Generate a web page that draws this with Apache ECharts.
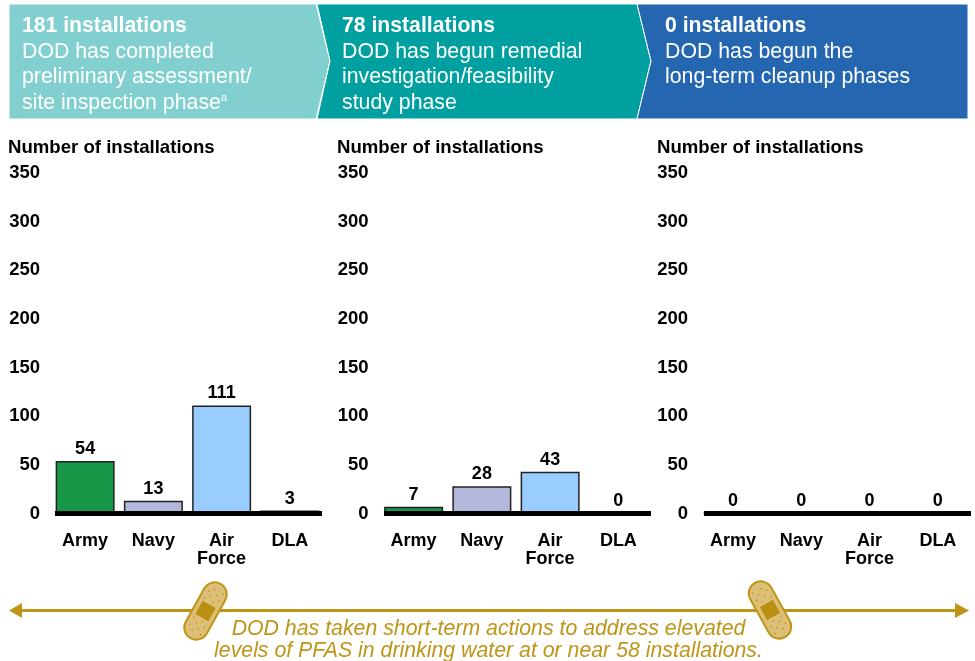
<!DOCTYPE html>
<html>
<head>
<meta charset="utf-8">
<script src="https://cdn.jsdelivr.net/npm/echarts@6/dist/echarts.min.js"></script>
<style>
  html, body { margin: 0; padding: 0; background: #fff; }
  #main { width: 975px; height: 661px; }
</style>
</head>
<body>
<div id="main"></div>
<script>
var categories = ['Army', 'Navy', 'Air\nForce', 'DLA'];
var assessmentValues = [54, 13, 111, 3];
var investigationValues = [7, 28, 43, 0];
var cleanupValues = [0, 0, 0, 0];
var barColors = ['#169848', '#B3B8DA', '#99CCFF', '#000000'];
var axisTitle = 'Number of installations';
var yMax = 350;
var yStep = 50;

var FONT = '"Liberation Sans", Arial, sans-serif';
var GOLD = '#BF9518';
var panels = [
  { values: assessmentValues, left: 51, lineLeft: 55, titleLeft: 8 },
  { values: investigationValues, left: 379.5, lineLeft: 384, titleLeft: 337 },
  { values: cleanupValues, left: 699, lineLeft: 704, titleLeft: 657 }
];
var GRID_W = 273, GRID_TOP = 173, GRID_BOTTOM_Y = 513.5;

var banners = [
  { fill: '#82CFD0', points: [[9, 4], [316, 4], [330, 61], [316, 119], [9, 119]], x: 22,
    head: '181 installations', lines: ['DOD has completed', 'preliminary assessment/', 'site inspection phase'] },
  { fill: '#009FA0', points: [[317, 4], [637, 4], [651, 61], [637, 119], [317, 119], [330, 61]], x: 342,
    head: '78 installations', lines: ['DOD has begun remedial', 'investigation/feasibility', 'study phase'] },
  { fill: '#2566B0', points: [[637, 4], [968, 4], [968, 119], [637, 119], [651, 61]], x: 665,
    head: '0 installations', lines: ['DOD has begun the', 'long-term cleanup phases'] }
];

var graphics = [];

banners.forEach(function (b) {
  graphics.push({
    type: 'polygon', shape: { points: b.points },
    style: { fill: b.fill, stroke: '#fff', lineWidth: 1 }
  });
  graphics.push({
    type: 'text', x: b.x, y: 26,
    style: { text: b.head, fill: '#fff', font: 'bold 21.2px ' + FONT, textVerticalAlign: 'middle' }
  });
  b.lines.forEach(function (line, i) {
    graphics.push({
      type: 'text', x: b.x, y: 52 + i * 25.5,
      style: { text: line, fill: '#fff', font: '21.3px ' + FONT, textVerticalAlign: 'middle' }
    });
  });
});
// footnote mark
graphics.push({
  type: 'text', x: 221, y: 98,
  style: { text: 'a', fill: '#fff', font: '11px ' + FONT, textVerticalAlign: 'middle' }
});

// thick baseline under each panel
panels.forEach(function (p) {
  graphics.push({
    type: 'rect', z: 20,
    shape: { x: p.lineLeft, y: GRID_BOTTOM_Y - 2.5, width: 267, height: 5 },
    style: { fill: '#000' }
  });
});

// long arrow
graphics.push({ type: 'line', shape: { x1: 16, y1: 610.5, x2: 960, y2: 610.5 }, style: { stroke: GOLD, lineWidth: 3 } });
graphics.push({ type: 'polygon', shape: { points: [[9, 610.5], [22, 603], [22, 618]] }, style: { fill: GOLD } });
graphics.push({ type: 'polygon', shape: { points: [[969, 610.5], [955, 603], [955, 618]] }, style: { fill: GOLD } });

function bandage(cx, cy, angle) {
  var kids = [
    { type: 'rect', shape: { x: -31, y: -12, width: 62, height: 24, r: 12 },
      style: { fill: '#DDBF78', stroke: GOLD, lineWidth: 2 } },
    { type: 'rect', shape: { x: -7.5, y: -7.5, width: 15, height: 15 }, style: { fill: '#BA9012' } }
  ];
  // perforation dots on both ends of the plaster
  [-1, 1].forEach(function (side) {
    [11, 15, 19, 23].forEach(function (dx, col) {
      [-7, -2.5, 2.5, 7].forEach(function (dy, row) {
        if ((col + row) % 2 === 0) {
          kids.push({ type: 'circle', shape: { cx: side * dx, cy: dy, r: 0.8 }, style: { fill: '#B58C1A' } });
        }
      });
    });
  });
  return { type: 'group', x: cx, y: cy, rotation: angle, z: 15, children: kids };
}
graphics.push(bandage(205.5, 611, 61 * Math.PI / 180));
graphics.push(bandage(770, 610, -61 * Math.PI / 180));

['DOD has taken short-term actions to address elevated',
 'levels of PFAS in drinking water at or near 58 installations.'].forEach(function (line, i) {
  graphics.push({
    type: 'text', x: 488.5, y: 629.5 + i * 22,
    style: { text: line, fill: GOLD, font: 'italic 21.3px ' + FONT, textAlign: 'center', textVerticalAlign: 'middle' }
  });
});

var myChart = echarts.init(document.getElementById('main'));
myChart.setOption({
  animation: false,
  backgroundColor: '#fff',
  title: panels.map(function (p) {
    return {
      text: axisTitle, left: p.titleLeft, top: 138, padding: 0,
      textStyle: { fontFamily: FONT, fontSize: 18.6, fontWeight: 'bold', color: '#000' }
    };
  }),
  grid: panels.map(function (p) {
    return { left: p.left, width: GRID_W, top: GRID_TOP, height: GRID_BOTTOM_Y - GRID_TOP };
  }),
  xAxis: panels.map(function (p, i) {
    return {
      type: 'category', gridIndex: i, data: categories,
      axisLine: { show: false }, axisTick: { show: false },
      axisLabel: { interval: 0, margin: 19, lineHeight: 18, color: '#000', fontFamily: FONT, fontSize: 18, fontWeight: 'bold' }
    };
  }),
  yAxis: panels.map(function (p, i) {
    return {
      type: 'value', gridIndex: i, min: 0, max: yMax, interval: yStep,
      axisLine: { show: false }, axisTick: { show: false }, splitLine: { show: false },
      axisLabel: { margin: 11, padding: [8, 0, 0, 0], color: '#000', fontFamily: FONT, fontSize: 18.5, fontWeight: 'bold' }
    };
  }),
  series: panels.map(function (p, i) {
    return {
      type: 'bar', xAxisIndex: i, yAxisIndex: i, barWidth: 59,
      data: p.values.map(function (v, k) {
        return { value: v, itemStyle: { color: barColors[k] } };
      }),
      itemStyle: { borderColor: '#222', borderWidth: 1.5 },
      label: { show: true, position: 'top', distance: 3, color: '#000', fontFamily: FONT, fontSize: 18, fontWeight: 'bold' }
    };
  }),
  graphic: { elements: graphics }
});
window.addEventListener('resize', function () {
  myChart.resize();
});
</script>
</body>
</html>
